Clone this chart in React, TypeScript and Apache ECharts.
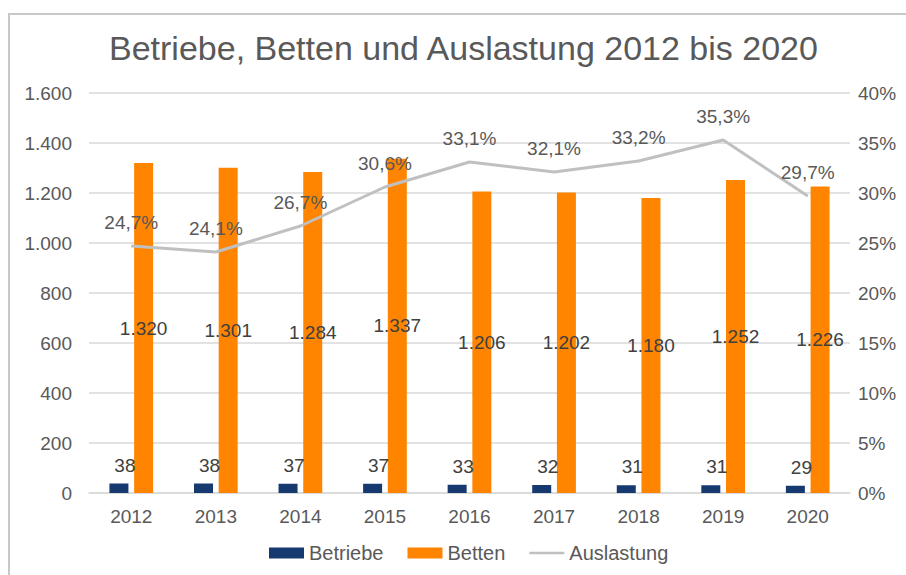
import React, { useEffect, useRef } from "react";
import * as echarts from "echarts";

const years = ["2012", "2013", "2014", "2015", "2016", "2017", "2018", "2019", "2020"];
const betriebe = [38, 38, 37, 37, 33, 32, 31, 31, 29];
const betten = [1320, 1301, 1284, 1337, 1206, 1202, 1180, 1252, 1226];
const auslastung = [24.7, 24.1, 26.7, 30.6, 33.1, 32.1, 33.2, 35.3, 29.7];

const FONT = "'Liberation Sans', Arial, sans-serif";
const TXT = "#595959";

const fmtThousands = (v: number) =>
  String(Math.round(v)).replace(/\B(?=(\d{3})+(?!\d))/g, ".");
const fmtPct = (v: number) => v.toFixed(1).replace(".", ",") + "%";

export default function App() {
  const ref = useRef<HTMLDivElement>(null);
  useEffect(() => {
    if (!ref.current) return;
    const chart = echarts.init(ref.current, undefined, { renderer: "svg" });
    chart.setOption({
      animation: false,
      backgroundColor: "#ffffff",
      textStyle: { fontFamily: FONT },
      graphic: [
        {
          type: "rect",
          shape: { x: 9, y: 14, width: 1000, height: 1000 },
          style: { fill: "none", stroke: "#c8c8c8", lineWidth: 2 },
          silent: true,
        },
      ],
      title: {
        text: "Betriebe, Betten und Auslastung 2012 bis 2020",
        left: 104,
        top: 26,
        textStyle: { fontFamily: FONT, fontSize: 34, fontWeight: "normal", color: TXT },
      },
      legend: {
        bottom: 7,
        left: 264,
        itemWidth: 35,
        itemHeight: 11,
        itemGap: 24,
        textStyle: { fontFamily: FONT, fontSize: 20, color: TXT },
        data: [
          { name: "Betriebe", icon: "rect" },
          { name: "Betten", icon: "rect" },
          {
            name: "Auslastung",
            icon: "path://M0,0 L40,0 L40,3 L0,3 Z",
            itemStyle: { color: "#c0c0c0", opacity: 1 },
          },
        ],
      },
      grid: { left: 89, right: 56, top: 93, bottom: 82 },
      xAxis: {
        type: "category",
        data: years,
        axisLine: { show: true, lineStyle: { color: "#d9d9d9", width: 1.5 } },
        axisTick: { show: false },
        axisLabel: { fontFamily: FONT, fontSize: 19, color: TXT, margin: 14 },
      },
      yAxis: [
        {
          type: "value",
          min: 0,
          max: 1600,
          interval: 200,
          axisLine: { show: false },
          axisTick: { show: false },
          splitLine: { lineStyle: { color: "#d9d9d9", width: 1.5 } },
          axisLabel: {
            fontFamily: FONT,
            fontSize: 19,
            color: TXT,
            margin: 17,
            formatter: (v: number) => fmtThousands(v),
          },
        },
        {
          type: "value",
          min: 0,
          max: 40,
          interval: 5,
          axisLine: { show: false },
          axisTick: { show: false },
          splitLine: { show: false },
          axisLabel: {
            fontFamily: FONT,
            fontSize: 19,
            color: TXT,
            margin: 8,
            formatter: (v: number) => v + "%",
          },
        },
      ],
      series: [
        {
          name: "Betriebe",
          type: "bar",
          data: betriebe,
          barWidth: 19,
          barGap: "30%",
          itemStyle: { color: "#163a70" },
          label: {
            show: true,
            position: "top",
            distance: 9,
            offset: [6, 0],
            fontFamily: FONT,
            fontSize: 19,
            color: "#404040",
          },
        },
        {
          name: "Betten",
          type: "bar",
          data: betten,
          barWidth: 19,
          itemStyle: { color: "#ff8400" },
          label: {
            show: true,
            position: "inside",
            fontFamily: FONT,
            fontSize: 19,
            color: "#404040",
            formatter: (p: any) => fmtThousands(p.value),
          },
        },
        {
          name: "Auslastung",
          type: "line",
          yAxisIndex: 1,
          data: auslastung,
          symbol: "circle",
          symbolSize: 1,
          showSymbol: true,
          lineStyle: { color: "#c0c0c0", width: 3 },
          itemStyle: { color: "#c0c0c0" },
          label: {
            show: true,
            position: "top",
            distance: 14,
            fontFamily: FONT,
            fontSize: 19,
            color: TXT,
            formatter: (p: any) => fmtPct(p.value),
          },
        },
      ],
    });
    return () => chart.dispose();
  }, []);
  return (
    <div
      ref={ref}
      style={{ position: "fixed", left: 0, top: 0, width: 906, height: 575 }}
    />
  );
}
